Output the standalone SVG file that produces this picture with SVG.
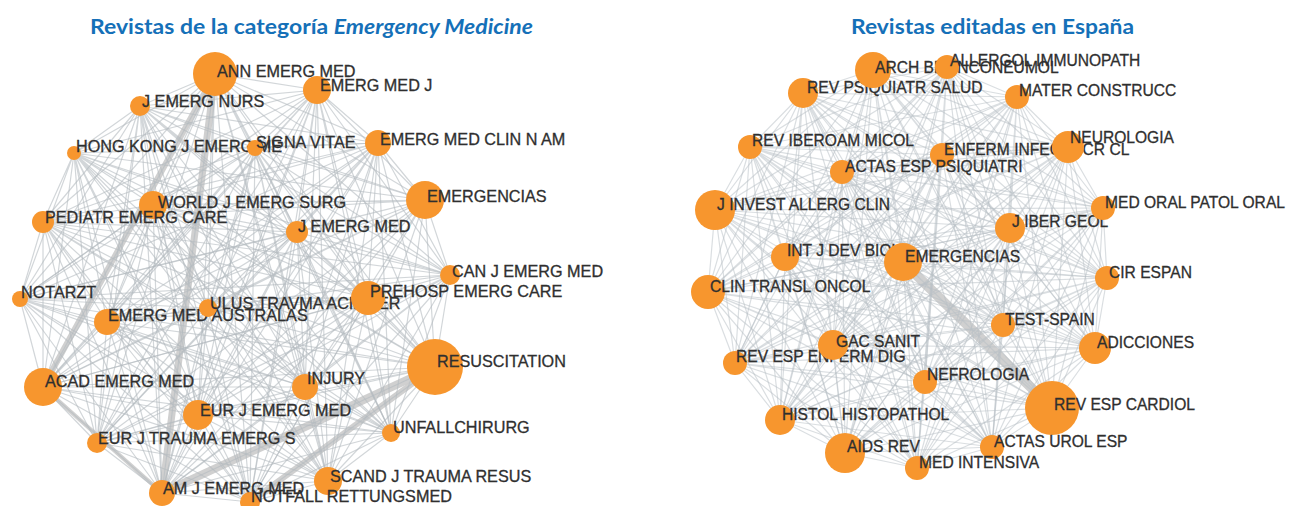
<svg xmlns="http://www.w3.org/2000/svg" width="1290" height="506" viewBox="0 0 1290 506">
<style>
.bg{fill:#ffffff}
.ttl{font-family:Lato,"Liberation Sans",Arial,sans-serif;font-weight:700;font-size:20px;fill:#1570b8}
.e{fill:none;stroke:#b4babf;stroke-width:1.2;stroke-opacity:.6;stroke-linejoin:round}
.er{stroke:#b8c0c6;stroke-opacity:.52}
.th{fill:none;stroke:#cbcbcb;stroke-linecap:round;stroke-opacity:.9}
.n circle{fill:#f7962e}
.n text{font-family:"Liberation Sans",Arial,sans-serif;font-size:16.2px;fill:#2f2f2f;stroke:#2f2f2f;stroke-width:.3}
.r text{font-size:15.6px}
</style>
<rect class="bg" x="0" y="0" width="1290" height="506"/>
<g id="titles">
<text class="ttl" x="90" y="34" textLength="443" lengthAdjust="spacingAndGlyphs">Revistas de la categoría <tspan font-style="italic">Emergency Medicine</tspan></text>
<text class="ttl" x="851" y="34" textLength="283" lengthAdjust="spacingAndGlyphs">Revistas editadas en España</text>
</g>
<g id="connectors">
<g id="edges-left">
<path class="th" stroke-width="6" d="M215 74L43 387"/>
<path class="th" stroke-width="7" d="M215 74L162 493"/>
<path class="th" stroke-width="4" d="M43 387L162 493"/>
<path class="th" stroke-width="8" d="M162 493L435 367"/>
<path class="th" stroke-width="6" d="M250 502L435 367"/>
<path class="e" d="M215 74L317 90 215 74 140 106 215 74 74 153 215 74 255 148 215 74 378 143 215 74 425 200 215 74 153 205 215 74 43 222 215 74 297 232 215 74 450 275 215 74 20 299 215 74 208 308 215 74 368 298 215 74 107 322 215 74 435 367 215 74 43 387 215 74 305 387 215 74 198 415 215 74 391 433 215 74 97 443 215 74 328 481 215 74 162 493 215 74 250 502"/>
<path class="e" d="M317 90L140 106 317 90 74 153 317 90 255 148 317 90 378 143 317 90 425 200 317 90 153 205 317 90 43 222 317 90 297 232 317 90 450 275 317 90 20 299 317 90 208 308 317 90 368 298 317 90 107 322 317 90 435 367 317 90 43 387 317 90 305 387 317 90 198 415 317 90 391 433 317 90 97 443 317 90 328 481 317 90 162 493 317 90 250 502"/>
<path class="e" d="M140 106L74 153 140 106 255 148 140 106 378 143 140 106 425 200 140 106 153 205 140 106 43 222 140 106 297 232 140 106 450 275 140 106 20 299 140 106 208 308 140 106 368 298 140 106 107 322 140 106 435 367 140 106 43 387 140 106 305 387 140 106 198 415 140 106 391 433 140 106 97 443 140 106 328 481 140 106 162 493 140 106 250 502"/>
<path class="e" d="M74 153L255 148 74 153 378 143 74 153 425 200 74 153 153 205 74 153 43 222 74 153 297 232 74 153 450 275 74 153 20 299 74 153 208 308 74 153 368 298 74 153 107 322 74 153 435 367 74 153 43 387 74 153 305 387 74 153 198 415 74 153 391 433 74 153 97 443 74 153 328 481 74 153 162 493 74 153 250 502"/>
<path class="e" d="M255 148L378 143 255 148 425 200 255 148 153 205 255 148 43 222 255 148 297 232 255 148 450 275 255 148 20 299 255 148 208 308 255 148 368 298 255 148 107 322 255 148 435 367 255 148 43 387 255 148 305 387 255 148 198 415 255 148 391 433 255 148 97 443 255 148 328 481 255 148 162 493 255 148 250 502"/>
<path class="e" d="M378 143L425 200 378 143 153 205 378 143 43 222 378 143 297 232 378 143 450 275 378 143 20 299 378 143 208 308 378 143 368 298 378 143 107 322 378 143 435 367 378 143 43 387 378 143 305 387 378 143 198 415 378 143 391 433 378 143 97 443 378 143 328 481 378 143 162 493 378 143 250 502"/>
<path class="e" d="M425 200L153 205 425 200 43 222 425 200 297 232 425 200 450 275 425 200 20 299 425 200 208 308 425 200 368 298 425 200 107 322 425 200 435 367 425 200 43 387 425 200 305 387 425 200 198 415 425 200 391 433 425 200 97 443 425 200 328 481 425 200 162 493 425 200 250 502"/>
<path class="e" d="M153 205L43 222 153 205 297 232 153 205 450 275 153 205 20 299 153 205 208 308 153 205 368 298 153 205 107 322 153 205 435 367 153 205 43 387 153 205 305 387 153 205 198 415 153 205 391 433 153 205 97 443 153 205 328 481 153 205 162 493 153 205 250 502"/>
<path class="e" d="M43 222L297 232 43 222 450 275 43 222 20 299 43 222 208 308 43 222 368 298 43 222 107 322 43 222 435 367 43 222 43 387 43 222 305 387 43 222 198 415 43 222 391 433 43 222 97 443 43 222 328 481 43 222 162 493 43 222 250 502"/>
<path class="e" d="M297 232L450 275 297 232 20 299 297 232 208 308 297 232 368 298 297 232 107 322 297 232 435 367 297 232 43 387 297 232 305 387 297 232 198 415 297 232 391 433 297 232 97 443 297 232 328 481 297 232 162 493 297 232 250 502"/>
<path class="e" d="M450 275L20 299 450 275 208 308 450 275 368 298 450 275 107 322 450 275 435 367 450 275 43 387 450 275 305 387 450 275 198 415 450 275 391 433 450 275 97 443 450 275 328 481 450 275 162 493 450 275 250 502"/>
<path class="e" d="M20 299L208 308 20 299 368 298 20 299 107 322 20 299 435 367 20 299 43 387 20 299 305 387 20 299 198 415 20 299 391 433 20 299 97 443 20 299 328 481 20 299 162 493 20 299 250 502"/>
<path class="e" d="M208 308L368 298 208 308 107 322 208 308 435 367 208 308 43 387 208 308 305 387 208 308 198 415 208 308 391 433 208 308 97 443 208 308 328 481 208 308 162 493 208 308 250 502"/>
<path class="e" d="M368 298L107 322 368 298 435 367 368 298 43 387 368 298 305 387 368 298 198 415 368 298 391 433 368 298 97 443 368 298 328 481 368 298 162 493 368 298 250 502"/>
<path class="e" d="M107 322L435 367 107 322 43 387 107 322 305 387 107 322 198 415 107 322 391 433 107 322 97 443 107 322 328 481 107 322 162 493 107 322 250 502"/>
<path class="e" d="M435 367L43 387 435 367 305 387 435 367 198 415 435 367 391 433 435 367 97 443 435 367 328 481 435 367 162 493 435 367 250 502"/>
<path class="e" d="M43 387L305 387 43 387 198 415 43 387 391 433 43 387 97 443 43 387 328 481 43 387 162 493 43 387 250 502"/>
<path class="e" d="M305 387L198 415 305 387 391 433 305 387 97 443 305 387 328 481 305 387 162 493 305 387 250 502"/>
<path class="e" d="M198 415L391 433 198 415 97 443 198 415 328 481 198 415 162 493 198 415 250 502"/>
<path class="e" d="M391 433L97 443 391 433 328 481 391 433 162 493 391 433 250 502"/>
<path class="e" d="M97 443L328 481 97 443 162 493 97 443 250 502"/>
<path class="e" d="M328 481L162 493 328 481 250 502"/>
<path class="e" d="M162 493L250 502"/>
</g>
<g id="edges-right">
<path class="th" stroke-width="10" d="M903 262L1052 408"/>
<path class="e er" d="M873 70L947 67 873 70 803 93 873 70 1017 97 873 70 750 147 873 70 942 155 873 70 1068 147 873 70 842 172 873 70 715 210 873 70 1103 208 873 70 1010 228 873 70 785 257 873 70 903 262 873 70 1107 278 873 70 708 292 873 70 1003 325 873 70 1095 348 873 70 833 345 873 70 735 363 873 70 925 382 873 70 1052 408 873 70 780 420 873 70 992 447 873 70 845 453 873 70 917 468"/>
<path class="e er" d="M947 67L803 93 947 67 1017 97 947 67 750 147 947 67 942 155 947 67 1068 147 947 67 842 172 947 67 715 210 947 67 1103 208 947 67 1010 228 947 67 785 257 947 67 903 262 947 67 1107 278 947 67 708 292 947 67 1003 325 947 67 1095 348 947 67 833 345 947 67 735 363 947 67 925 382 947 67 1052 408 947 67 780 420 947 67 992 447 947 67 845 453 947 67 917 468"/>
<path class="e er" d="M803 93L1017 97 803 93 750 147 803 93 942 155 803 93 1068 147 803 93 842 172 803 93 715 210 803 93 1103 208 803 93 1010 228 803 93 785 257 803 93 903 262 803 93 1107 278 803 93 708 292 803 93 1003 325 803 93 1095 348 803 93 833 345 803 93 735 363 803 93 925 382 803 93 1052 408 803 93 780 420 803 93 992 447 803 93 845 453 803 93 917 468"/>
<path class="e er" d="M1017 97L750 147 1017 97 942 155 1017 97 1068 147 1017 97 842 172 1017 97 715 210 1017 97 1103 208 1017 97 1010 228 1017 97 785 257 1017 97 903 262 1017 97 1107 278 1017 97 708 292 1017 97 1003 325 1017 97 1095 348 1017 97 833 345 1017 97 735 363 1017 97 925 382 1017 97 1052 408 1017 97 780 420 1017 97 992 447 1017 97 845 453 1017 97 917 468"/>
<path class="e er" d="M750 147L942 155 750 147 1068 147 750 147 842 172 750 147 715 210 750 147 1103 208 750 147 1010 228 750 147 785 257 750 147 903 262 750 147 1107 278 750 147 708 292 750 147 1003 325 750 147 1095 348 750 147 833 345 750 147 735 363 750 147 925 382 750 147 1052 408 750 147 780 420 750 147 992 447 750 147 845 453 750 147 917 468"/>
<path class="e er" d="M942 155L1068 147 942 155 842 172 942 155 715 210 942 155 1103 208 942 155 1010 228 942 155 785 257 942 155 903 262 942 155 1107 278 942 155 708 292 942 155 1003 325 942 155 1095 348 942 155 833 345 942 155 735 363 942 155 925 382 942 155 1052 408 942 155 780 420 942 155 992 447 942 155 845 453 942 155 917 468"/>
<path class="e er" d="M1068 147L842 172 1068 147 715 210 1068 147 1103 208 1068 147 1010 228 1068 147 785 257 1068 147 903 262 1068 147 1107 278 1068 147 708 292 1068 147 1003 325 1068 147 1095 348 1068 147 833 345 1068 147 735 363 1068 147 925 382 1068 147 1052 408 1068 147 780 420 1068 147 992 447 1068 147 845 453 1068 147 917 468"/>
<path class="e er" d="M842 172L715 210 842 172 1103 208 842 172 1010 228 842 172 785 257 842 172 903 262 842 172 1107 278 842 172 708 292 842 172 1003 325 842 172 1095 348 842 172 833 345 842 172 735 363 842 172 925 382 842 172 1052 408 842 172 780 420 842 172 992 447 842 172 845 453 842 172 917 468"/>
<path class="e er" d="M715 210L1103 208 715 210 1010 228 715 210 785 257 715 210 903 262 715 210 1107 278 715 210 708 292 715 210 1003 325 715 210 1095 348 715 210 833 345 715 210 735 363 715 210 925 382 715 210 1052 408 715 210 780 420 715 210 992 447 715 210 845 453 715 210 917 468"/>
<path class="e er" d="M1103 208L1010 228 1103 208 785 257 1103 208 903 262 1103 208 1107 278 1103 208 708 292 1103 208 1003 325 1103 208 1095 348 1103 208 833 345 1103 208 735 363 1103 208 925 382 1103 208 1052 408 1103 208 780 420 1103 208 992 447 1103 208 845 453 1103 208 917 468"/>
<path class="e er" d="M1010 228L785 257 1010 228 903 262 1010 228 1107 278 1010 228 708 292 1010 228 1003 325 1010 228 1095 348 1010 228 833 345 1010 228 735 363 1010 228 925 382 1010 228 1052 408 1010 228 780 420 1010 228 992 447 1010 228 845 453 1010 228 917 468"/>
<path class="e er" d="M785 257L903 262 785 257 1107 278 785 257 708 292 785 257 1003 325 785 257 1095 348 785 257 833 345 785 257 735 363 785 257 925 382 785 257 1052 408 785 257 780 420 785 257 992 447 785 257 845 453 785 257 917 468"/>
<path class="e er" d="M903 262L1107 278 903 262 708 292 903 262 1003 325 903 262 1095 348 903 262 833 345 903 262 735 363 903 262 925 382 903 262 1052 408 903 262 780 420 903 262 992 447 903 262 845 453 903 262 917 468"/>
<path class="e er" d="M1107 278L708 292 1107 278 1003 325 1107 278 1095 348 1107 278 833 345 1107 278 735 363 1107 278 925 382 1107 278 1052 408 1107 278 780 420 1107 278 992 447 1107 278 845 453 1107 278 917 468"/>
<path class="e er" d="M708 292L1003 325 708 292 1095 348 708 292 833 345 708 292 735 363 708 292 925 382 708 292 1052 408 708 292 780 420 708 292 992 447 708 292 845 453 708 292 917 468"/>
<path class="e er" d="M1003 325L1095 348 1003 325 833 345 1003 325 735 363 1003 325 925 382 1003 325 1052 408 1003 325 780 420 1003 325 992 447 1003 325 845 453 1003 325 917 468"/>
<path class="e er" d="M1095 348L833 345 1095 348 735 363 1095 348 925 382 1095 348 1052 408 1095 348 780 420 1095 348 992 447 1095 348 845 453 1095 348 917 468"/>
<path class="e er" d="M833 345L735 363 833 345 925 382 833 345 1052 408 833 345 780 420 833 345 992 447 833 345 845 453 833 345 917 468"/>
<path class="e er" d="M735 363L925 382 735 363 1052 408 735 363 780 420 735 363 992 447 735 363 845 453 735 363 917 468"/>
<path class="e er" d="M925 382L1052 408 925 382 780 420 925 382 992 447 925 382 845 453 925 382 917 468"/>
<path class="e er" d="M1052 408L780 420 1052 408 992 447 1052 408 845 453 1052 408 917 468"/>
<path class="e er" d="M780 420L992 447 780 420 845 453 780 420 917 468"/>
<path class="e er" d="M992 447L845 453 992 447 917 468"/>
<path class="e er" d="M845 453L917 468"/>
</g>
</g>
<g id="nodes-left" class="n">
<g id="l-ann-emerg-med"><circle cx="215" cy="74" r="22"/><text x="217" y="77">ANN EMERG MED</text></g>
<g id="l-emerg-med-j"><circle cx="317" cy="90" r="14"/><text x="320" y="91">EMERG MED J</text></g>
<g id="l-j-emerg-nurs"><circle cx="140" cy="106" r="10"/><text x="142" y="107">J EMERG NURS</text></g>
<g id="l-hong-kong"><circle cx="74" cy="153" r="7"/><text x="76" y="152">HONG KONG J EMERG ME</text></g>
<g id="l-signa-vitae"><circle cx="255" cy="148" r="8"/><text x="256" y="148">SIGNA VITAE</text></g>
<g id="l-emerg-med-clin"><circle cx="378" cy="143" r="13"/><text x="380" y="145">EMERG MED CLIN N AM</text></g>
<g id="l-emergencias"><circle cx="425" cy="200" r="19"/><text x="427" y="202">EMERGENCIAS</text></g>
<g id="l-world-j"><circle cx="153" cy="205" r="14"/><text x="158" y="208">WORLD J EMERG SURG</text></g>
<g id="l-pediatr"><circle cx="43" cy="222" r="11"/><text x="45" y="223">PEDIATR EMERG CARE</text></g>
<g id="l-j-emerg-med"><circle cx="297" cy="232" r="11"/><text x="298" y="232">J EMERG MED</text></g>
<g id="l-can-j"><circle cx="450" cy="275" r="10"/><text x="452" y="277">CAN J EMERG MED</text></g>
<g id="l-notarzt"><circle cx="20" cy="299" r="8"/><text x="21" y="298">NOTARZT</text></g>
<g id="l-emerg-med-australas"><circle cx="107" cy="322" r="13"/><text x="108" y="321">EMERG MED AUSTRALAS</text></g>
<g id="l-ulus"><circle cx="208" cy="308" r="9"/><text x="210" y="309">ULUS TRAVMA ACIL CER</text></g>
<g id="l-prehosp"><circle cx="368" cy="298" r="17"/><text x="370" y="297">PREHOSP EMERG CARE</text></g>
<g id="l-resuscitation"><circle cx="435" cy="367" r="28"/><text x="437" y="367">RESUSCITATION</text></g>
<g id="l-acad"><circle cx="43" cy="387" r="19"/><text x="45" y="387">ACAD EMERG MED</text></g>
<g id="l-injury"><circle cx="305" cy="387" r="13"/><text x="307" y="384">INJURY</text></g>
<g id="l-eur-j-emerg-med"><circle cx="198" cy="415" r="15"/><text x="200" y="416">EUR J EMERG MED</text></g>
<g id="l-unfallchirurg"><circle cx="391" cy="433" r="9"/><text x="393" y="433">UNFALLCHIRURG</text></g>
<g id="l-eur-j-trauma"><circle cx="97" cy="443" r="10"/><text x="98" y="444">EUR J TRAUMA EMERG S</text></g>
<g id="l-scand"><circle cx="328" cy="481" r="14"/><text x="330" y="482">SCAND J TRAUMA RESUS</text></g>
<g id="l-am-j"><circle cx="162" cy="493" r="13"/><text x="163" y="494">AM J EMERG MED</text></g>
<g id="l-notfall"><circle cx="250" cy="502" r="10"/><text x="251" y="502">NOTFALL RETTUNGSMED</text></g>
</g>
<g id="nodes-right" class="n r">
<g id="r-rev-psiquiatr"><circle cx="803" cy="93" r="15"/><text x="807" y="93">REV PSIQUIATR SALUD</text></g>
<g id="r-arch"><circle cx="873" cy="70" r="18"/><text x="875" y="73">ARCH BRONCONEUMOL</text></g>
<g id="r-allergol"><circle cx="947" cy="67" r="12"/><text x="950" y="66">ALLERGOL IMMUNOPATH</text></g>
<g id="r-mater"><circle cx="1017" cy="97" r="12"/><text x="1019" y="96">MATER CONSTRUCC</text></g>
<g id="r-rev-iberoam"><circle cx="750" cy="147" r="12"/><text x="752" y="146">REV IBEROAM MICOL</text></g>
<g id="r-enferm"><circle cx="942" cy="155" r="12"/><text x="944" y="155">ENFERM INFEC MICR CL</text></g>
<g id="r-neurologia"><circle cx="1068" cy="147" r="16"/><text x="1070" y="143">NEUROLOGIA</text></g>
<g id="r-actas-esp"><circle cx="842" cy="172" r="12"/><text x="845" y="172">ACTAS ESP PSIQUIATRI</text></g>
<g id="r-j-invest"><circle cx="715" cy="210" r="20"/><text x="717" y="210">J INVEST ALLERG CLIN</text></g>
<g id="r-j-iber"><circle cx="1010" cy="228" r="15"/><text x="1012" y="227">J IBER GEOL</text></g>
<g id="r-med-oral"><circle cx="1103" cy="208" r="12"/><text x="1105" y="208">MED ORAL PATOL ORAL</text></g>
<g id="r-int-j-dev"><circle cx="785" cy="257" r="14"/><text x="787" y="256">INT J DEV BIOL</text></g>
<g id="r-emergencias"><circle cx="903" cy="262" r="19"/><text x="905" y="262">EMERGENCIAS</text></g>
<g id="r-cir-espan"><circle cx="1107" cy="278" r="12"/><text x="1109" y="278">CIR ESPAN</text></g>
<g id="r-clin-transl"><circle cx="708" cy="292" r="17"/><text x="710" y="292">CLIN TRANSL ONCOL</text></g>
<g id="r-test-spain"><circle cx="1003" cy="325" r="12"/><text x="1005" y="325">TEST-SPAIN</text></g>
<g id="r-adicciones"><circle cx="1095" cy="348" r="16"/><text x="1097" y="348">ADICCIONES</text></g>
<g id="r-rev-esp-enferm"><circle cx="735" cy="363" r="12"/><text x="736" y="362">REV ESP ENFERM DIG</text></g>
<g id="r-gac-sanit"><circle cx="833" cy="345" r="15"/><text x="836" y="347">GAC SANIT</text></g>
<g id="r-nefrologia"><circle cx="925" cy="382" r="12"/><text x="927" y="380">NEFROLOGIA</text></g>
<g id="r-rev-esp-cardiol"><circle cx="1052" cy="408" r="27"/><text x="1054" y="410">REV ESP CARDIOL</text></g>
<g id="r-histol"><circle cx="780" cy="420" r="15"/><text x="782" y="420">HISTOL HISTOPATHOL</text></g>
<g id="r-actas-urol"><circle cx="992" cy="447" r="12"/><text x="994" y="447">ACTAS UROL ESP</text></g>
<g id="r-aids-rev"><circle cx="845" cy="453" r="20"/><text x="847" y="452">AIDS REV</text></g>
<g id="r-med-intensiva"><circle cx="917" cy="468" r="12"/><text x="919" y="468">MED INTENSIVA</text></g>
</g>
</svg>
